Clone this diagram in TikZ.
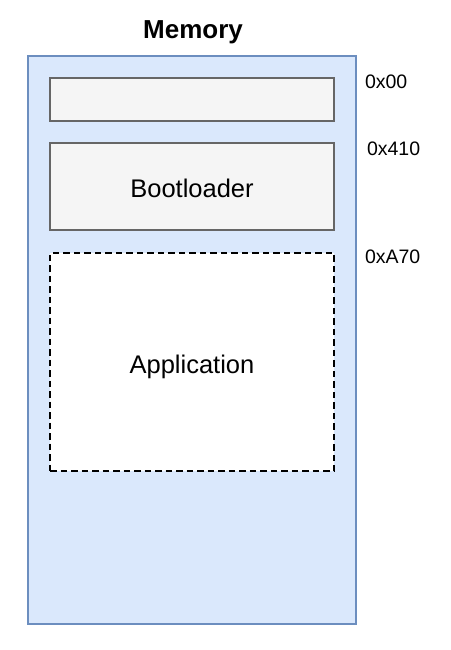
\documentclass[tikz,border=0pt]{standalone}
\usepackage{fontspec}
\setmainfont{Liberation Sans}
\usepackage{xcolor}
\usepackage{tikz}
\usetikzlibrary{positioning}

\definecolor{memfill}{HTML}{DAE8FC}
\definecolor{memdraw}{HTML}{6C8EBF}
\definecolor{secfill}{HTML}{F5F5F5}
\definecolor{secdraw}{HTML}{666666}

\begin{document}
\begin{tikzpicture}[
  x=1pt, y=-1pt,
  every node/.style={inner sep=0pt, outer sep=0pt},
  mem/.style={draw=memdraw, fill=memfill, line width=1.4pt, anchor=north west,
              minimum width=328pt, minimum height=568pt},
  section/.style={draw=secdraw, fill=secfill, line width=1.8pt, anchor=north west,
                  minimum width=284pt, text height=22pt, text depth=0pt,
                  font=\fontsize{25.5}{30}\selectfont},
  appbox/.style={draw=black, fill=white, line width=1.8pt,
                 dash pattern=on 6.5pt off 4pt, anchor=north west,
                 minimum width=284pt, minimum height=218pt,
                 text height=22pt, text depth=0pt,
                 font=\fontsize{25.5}{30}\selectfont},
  addr/.style={anchor=west, font=\fontsize{19.5}{23}\selectfont},
]
\useasboundingbox (0,0) rectangle (450,650);

% Title
\node[font=\bfseries\fontsize{26}{31}\selectfont] (title) at (193,32.5) {Memory};

% Memory outline
\node[mem] (memory) at (28,56) {};

% Sections
\node[section, minimum height=43pt] (reserved) at (50,78) {};
\node[section, minimum height=87pt] (boot) at (50,143) {Bootloader};
\node[appbox] (app) at (50,253) {Application};

% Addresses
\node[addr] (a0) at (365,82) {0x00};
\node[addr] (a1) at (367,149) {0x410};
\node[addr] (a2) at (365,257) {0xA70};

\end{tikzpicture}
\end{document}
